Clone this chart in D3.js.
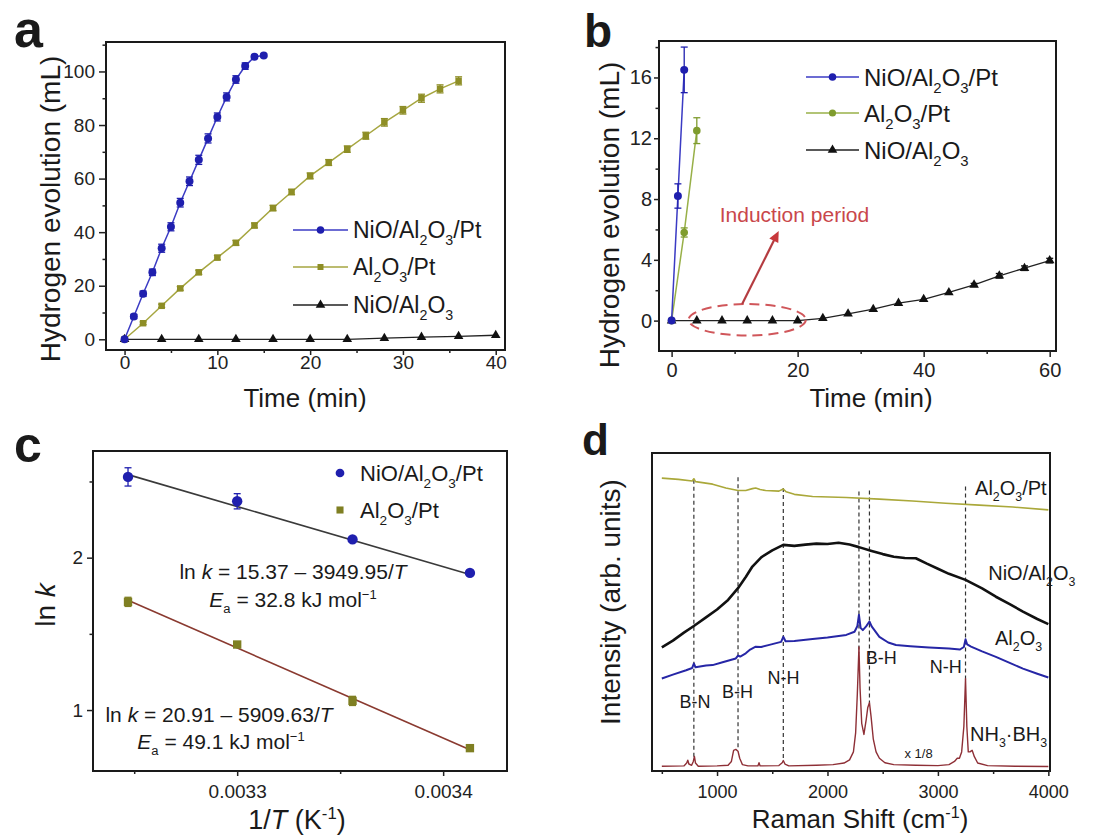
<!DOCTYPE html>
<html>
<head>
<meta charset="utf-8">
<script src="https://cdn.jsdelivr.net/npm/d3@7"></script>
<style>
body { margin: 0; background: #fff; }
</style>
</head>
<body>
<div id="chart"></div>
<script>
// ---- panel a: hydrogen evolution vs time ----
var timeA_pt = [0, 1, 2, 3, 4, 5, 6, 7, 8, 9, 10, 11, 12, 13, 14, 15];
var volA_pt  = [0, 8.5, 17, 25, 34, 42, 51, 59, 67, 75, 83, 90.5, 97, 102, 105.5, 106];
var errA_pt  = [0, 0.8, 1, 1.2, 1.5, 1.5, 1.6, 1.6, 1.7, 1.7, 1.5, 1.5, 1.4, 1.2, 0.6, 0.5];
var timeA_al = [0, 2, 4, 6, 8, 10, 12, 14, 16, 18, 20, 22, 24, 26, 28, 30, 32, 34, 36];
var volA_al  = [0, 6, 12.5, 19, 25, 30.5, 36, 42.5, 49, 55, 61, 66, 71, 76, 81, 85.5, 90, 93.5, 96.5];
var errA_al  = [0, 0.5, 0.6, 0.7, 0.8, 0.8, 0.9, 0.9, 1, 1, 1.1, 1.1, 1.2, 1.3, 1.4, 1.4, 1.5, 1.5, 1.5];
var timeA_ni = [0, 4, 8, 12, 16, 20, 24, 28, 32, 36, 40];
var volA_ni  = [0, 0, 0, 0, 0, 0, 0, 0.4, 0.8, 1.1, 1.5];

// ---- panel b: early stage ----
var timeB_pt = [0, 1, 2];
var volB_pt  = [0, 8.2, 16.5];
var errB_pt  = [0, 0.8, 1.5];
var timeB_al = [0, 2, 4];
var volB_al  = [0, 5.8, 12.5];
var errB_al  = [0, 0.3, 0.85];
var timeB_ni = [0, 4, 8, 12, 16, 20, 24, 28, 32, 36, 40, 44, 48, 52, 56, 60];
var volB_ni  = [0, 0, 0, 0, 0, 0, 0.15, 0.45, 0.75, 1.15, 1.4, 1.85, 2.35, 2.95, 3.45, 3.95];
var errB_ni  = [0, 0, 0, 0, 0, 0, 0, 0, 0, 0, 0, 0, 0.1, 0.15, 0.15, 0.15];

// ---- panel c: Arrhenius plot ----
var invT    = [0.003247, 0.003300, 0.003356, 0.003413];
var lnk_pt  = [2.53, 2.37, 2.12, 1.90];
var errC_pt = [0.06, 0.05, 0, 0];
var lnk_al  = [1.71, 1.43, 1.06, 0.75];
var errC_al = [0.03, 0, 0.03, 0];
var fit_pt  = [[0.003247, 2.545], [0.003413, 1.889]];
var fit_al  = [[0.003247, 1.721], [0.003413, 0.740]];

// ---- panel d: Raman spectra [shift, intensity] ----
var ramanAlPt = [[500,92.1],[650,91.7],[775,91.2],[790,91.9],[805,91.0],[960,90.2],[1080,89.0],[1190,88.2],[1260,88.2],
  [1320,88.8],[1350,89.0],[1390,88.5],[1440,88.2],[1560,88.0],[1600,88.7],[1625,87.8],[1700,87.0],[1865,86.3],
  [2170,86.0],[2470,85.5],[2770,84.9],[3070,84.2],[3375,83.6],[3678,83.0],[4000,82.1]];
var ramanNiAl = [[500,38.9],[600,41.0],[700,43.5],[790,45.6],[900,48.3],[1000,50.8],[1100,53.8],[1190,57.5],[1260,61.0],
  [1320,64.3],[1400,67.2],[1500,69.4],[1600,71.1],[1700,70.8],[1800,71.2],[1900,71.5],[2000,71.4],[2100,71.8],
  [2200,71.2],[2285,70.4],[2400,69.2],[2500,68.2],[2600,67.4],[2700,67.0],[2800,66.9],[2900,65.2],[3000,63.6],
  [3100,62.0],[3250,60.1],[3400,57.4],[3525,54.8],[3650,52.5],[3770,50.1],[3900,47.8],[4000,46.2]];
var ramanAl = [[500,29.1],[600,30.3],[720,31.7],[775,32.4],[790,33.8],[805,32.6],[900,33.2],[960,33.3],[1050,34.2],
  [1170,35.4],[1190,36.3],[1210,36.0],[1260,37.0],[1300,38.2],[1350,39.1],[1400,39.0],[1500,39.9],[1580,40.6],
  [1600,42.2],[1620,40.8],[1700,40.9],[1865,41.5],[2000,42.0],[2170,42.8],[2245,43.8],[2270,45.5],[2285,49.1],
  [2300,45.0],[2320,44.3],[2350,45.5],[2380,47.0],[2400,45.5],[2470,42.2],[2550,40.4],[2620,39.6],[2750,39.2],
  [2920,38.8],[3100,38.5],[3200,38.2],[3235,39.0],[3250,41.4],[3265,39.8],[3300,39.1],[3400,37.6],[3525,35.9],
  [3650,34.0],[3770,32.2],[3900,30.6],[4000,29.4]];
var ramanAB = [[500,1.5],[700,1.6],[725,2.5],[735,3.4],[745,2.2],[770,1.8],[785,3],[795,4.6],[805,2.5],[830,1.5],
  [1000,1.6],[1100,1.8],[1130,3],[1150,6.5],[1170,6.8],[1190,6.2],[1205,4],[1230,2],[1280,1.6],[1370,1.6],[1380,2.6],
  [1390,1.6],[1560,1.7],[1590,2.6],[1600,3.3],[1615,2.2],[1650,1.6],[1900,1.8],[2050,2.0],[2150,2.5],[2200,3.5],
  [2235,6],[2255,12],[2270,24],[2285,39],[2295,26],[2310,15],[2330,11.5],[2350,16],[2365,20],[2380,21.5],[2395,17],
  [2415,10],[2440,6],[2470,4],[2520,2.6],[2600,2.0],[2800,1.8],[3000,1.7],[3100,2],[3150,3],[3175,4],[3195,4],
  [3215,6],[3235,14],[3250,29],[3262,14],[3275,6],[3290,6],[3310,6.5],[3330,4.5],[3360,2.5],[3450,1.7],[3700,1.5],[4000,1.4]];
// dashed peak markers [shift, top, bottom]
var peakLines = [[790,91.6,4.4],[1190,92.4,6.5],[1600,89,3.2],[2285,87.9,37],[2380,88.2,21.2],[3250,89.5,28.6]];
var peakNames = ["B-N", "B-H", "N-H", "B-H", "N-H"];
var peakNameAt = [[800,19.8],[1186,22.9],[1602,27.3],[2486,33.5],[3070,30.8]];

var FONT = '"Liberation Sans", Arial, Helvetica, sans-serif';
var svg = d3.select("#chart").append("svg")
    .attr("width", 1093).attr("height", 837)
    .attr("font-family", FONT);
svg.append("rect").attr("width", 1093).attr("height", 837).attr("fill", "#fff");

// text with sub/sup/italic pieces
function label(g, x, y, segs, fs, anchor) {
    var t = g.append("text").attr("x", x).attr("y", y).attr("font-size", fs)
        .attr("text-anchor", anchor || "start").attr("fill", "#1a1a1a");
    if (typeof segs === "string") segs = [[segs, ""]];
    var shift = 0;
    segs.forEach(function(s) {
        var k = s[1];
        var target = k === "sub" ? fs * 0.3 : (k === "sup" ? -fs * 0.38 : 0);
        var ts = t.append("tspan").attr("dy", target - shift).text(s[0]);
        shift = target;
        if (k === "sub" || k === "sup") ts.attr("font-size", fs * 0.62);
        if (k === "i") ts.attr("font-style", "italic");
    });
    return t;
}
function vlabel(g, x, y, segs, fs) {
    var h = g.append("g").attr("transform", "translate(" + x + "," + y + ") rotate(-90)");
    return label(h, 0, 0, segs, fs, "middle");
}

function frame(g, x, y) {
    g.append("rect")
        .attr("x", x.range()[0]).attr("y", y.range()[1])
        .attr("width", x.range()[1] - x.range()[0])
        .attr("height", y.range()[0] - y.range()[1])
        .attr("fill", "none").attr("stroke", "#1a1a1a").attr("stroke-width", 2);
}

function styleAxis(ax, fs) {
    ax.select(".domain").remove();
    ax.attr("font-size", fs).attr("font-family", FONT).attr("color", "#222");
    ax.selectAll("line").attr("stroke-width", 1.5);
}

function xAxis(g, x, y, major, minor, fmt, fs, tick, pad) {
    var y0 = y.range()[0];
    var ax = g.append("g").attr("transform", "translate(0," + y0 + ")")
        .call(d3.axisBottom(x).tickValues(major).tickSize(tick).tickPadding(pad).tickFormat(fmt));
    styleAxis(ax, fs);
    var mi = g.append("g").attr("transform", "translate(0," + y0 + ")")
        .call(d3.axisBottom(x).tickValues(minor).tickSize(3).tickFormat(""));
    styleAxis(mi, fs);
}

function yAxis(g, x, y, major, minor, fmt, fs, tick, pad) {
    var x0 = x.range()[0];
    var ax = g.append("g").attr("transform", "translate(" + x0 + ",0)")
        .call(d3.axisLeft(y).tickValues(major).tickSize(tick).tickPadding(pad).tickFormat(fmt));
    styleAxis(ax, fs);
    var mi = g.append("g").attr("transform", "translate(" + x0 + ",0)")
        .call(d3.axisLeft(y).tickValues(minor).tickSize(3.5).tickFormat(""));
    styleAxis(mi, fs);
}

function series(g, x, y, ts, vs, es, lineColor, markColor, sym, size, lw) {
    var pts = ts.map(function(t, i) { return [t, vs[i]]; });
    if (lineColor) {
        g.append("path").datum(pts)
            .attr("d", d3.line().x(function(d) { return x(d[0]); }).y(function(d) { return y(d[1]); }))
            .attr("fill", "none").attr("stroke", lineColor).attr("stroke-width", lw || 1.5);
    }
    if (es) {
        var eb = g.append("g").attr("stroke", markColor).attr("stroke-width", 1.3);
        pts.forEach(function(d, i) {
            if (!es[i]) return;
            var cx = x(d[0]), y1 = y(d[1] + es[i]), y2 = y(d[1] - es[i]);
            eb.append("line").attr("x1", cx).attr("x2", cx).attr("y1", y1).attr("y2", y2);
            eb.append("line").attr("x1", cx - 3.5).attr("x2", cx + 3.5).attr("y1", y1).attr("y2", y1);
            eb.append("line").attr("x1", cx - 3.5).attr("x2", cx + 3.5).attr("y1", y2).attr("y2", y2);
        });
    }
    g.append("g").selectAll("path").data(pts).enter().append("path")
        .attr("transform", function(d) { return "translate(" + x(d[0]) + "," + y(d[1]) + ")"; })
        .attr("d", d3.symbol().type(sym).size(size))
        .attr("fill", markColor);
}

function legendRow(g, x0, x1, yc, color, lineColor, sym, size, segs, fs) {
    if (lineColor) {
        g.append("line").attr("x1", x0).attr("x2", x1).attr("y1", yc).attr("y2", yc)
            .attr("stroke", lineColor).attr("stroke-width", 1.5);
    }
    g.append("path").attr("transform", "translate(" + (x0 + x1) / 2 + "," + yc + ")")
        .attr("d", d3.symbol().type(sym).size(size)).attr("fill", color);
    label(g, x1 + 5, yc + fs * 0.36, segs, fs);
}

var NAME_PT = [["NiO/Al", ""], ["2", "sub"], ["O", ""], ["3", "sub"], ["/Pt", ""]];
var NAME_AL = [["Al", ""], ["2", "sub"], ["O", ""], ["3", "sub"], ["/Pt", ""]];
var NAME_NI = [["NiO/Al", ""], ["2", "sub"], ["O", ""], ["3", "sub"]];
var BLUE = "#1f1fae", BLUE_L = "#3b3bc4";
var OLIVE = "#8e8e26", OLIVE_L = "#a6a640";
var GREEN_B = "#7f9c2e", GREEN_BL = "#98b048";
var fmtInt = d3.format("d");

// ================= panel a =================
var ga = svg.append("g");
var xa = d3.scaleLinear().domain([-2, 41]).range([106, 505]);
var ya = d3.scaleLinear().domain([-4, 111]).range([350, 42]);
series(ga, xa, ya, timeA_ni, volA_ni, null, "#222", "#111", d3.symbolTriangle, 40, 1.3);
series(ga, xa, ya, timeA_al, volA_al, errA_al, OLIVE_L, OLIVE, d3.symbolSquare, 42, 1.5);
series(ga, xa, ya, timeA_pt, volA_pt, errA_pt, BLUE_L, BLUE, d3.symbolCircle, 50, 1.5);
frame(ga, xa, ya);
xAxis(ga, xa, ya, [0, 10, 20, 30, 40], [5, 15, 25, 35], fmtInt, 19, 5, 1);
yAxis(ga, xa, ya, [0, 20, 40, 60, 80, 100], [10, 30, 50, 70, 90, 110], fmtInt, 19, 7, 4);
legendRow(ga, 293, 348, 230, BLUE, BLUE_L, d3.symbolCircle, 45, NAME_PT, 23);
legendRow(ga, 293, 348, 267, OLIVE, OLIVE_L, d3.symbolSquare, 36, NAME_AL, 23);
legendRow(ga, 293, 348, 305, "#111", "#222", d3.symbolTriangle, 40, NAME_NI, 23);
label(ga, 305, 407, "Time (min)", 26, "middle");
vlabel(ga, 60, 209, "Hydrogen evolution (mL)", 28);
label(ga, 14, 47, "a", 52).attr("font-weight", "bold");

// ================= panel b =================
var gb = svg.append("g");
var xb = d3.scaleLinear().domain([-2, 61]).range([659, 1056]);
var yb = d3.scaleLinear().domain([-2, 18.4]).range([351, 41]);
series(gb, xb, yb, timeB_ni, volB_ni, errB_ni, "#222", "#111", d3.symbolTriangle, 40, 1.3);
series(gb, xb, yb, timeB_al, volB_al, errB_al, GREEN_BL, GREEN_B, d3.symbolCircle, 45, 1.5);
series(gb, xb, yb, timeB_pt, volB_pt, errB_pt, BLUE_L, BLUE, d3.symbolCircle, 50, 1.5);
// induction period marker
var ell = { x0: 2.7, x1: 21.3, y0: -0.98, y1: 1.09 };
gb.append("ellipse")
    .attr("cx", (xb(ell.x0) + xb(ell.x1)) / 2).attr("cy", (yb(ell.y0) + yb(ell.y1)) / 2)
    .attr("rx", (xb(ell.x1) - xb(ell.x0)) / 2).attr("ry", (yb(ell.y0) - yb(ell.y1)) / 2)
    .attr("fill", "none").attr("stroke", "#d0565a").attr("stroke-width", 2)
    .attr("stroke-dasharray", "10,6");
var ax0 = xb(11.2), ay0 = yb(1.09), ax1 = xb(17.0), ay1 = yb(5.9);
var ang = Math.atan2(ay1 - ay0, ax1 - ax0);
gb.append("line").attr("x1", ax0).attr("y1", ay0)
    .attr("x2", ax1 - 8 * Math.cos(ang)).attr("y2", ay1 - 8 * Math.sin(ang))
    .attr("stroke", "#b43c40").attr("stroke-width", 2.2);
gb.append("path")
    .attr("d", "M0,0L-11,-5L-11,5Z")
    .attr("transform", "translate(" + ax1 + "," + ay1 + ") rotate(" + ang * 180 / Math.PI + ")")
    .attr("fill", "#c8383c");
label(gb, xb(19.5), yb(6.5), "Induction period", 21, "middle").attr("fill", "#c9474b");
frame(gb, xb, yb);
xAxis(gb, xb, yb, [0, 20, 40, 60], [10, 30, 50], fmtInt, 20, 6, 6);
yAxis(gb, xb, yb, [0, 4, 8, 12, 16], [2, 6, 10, 14, 18], fmtInt, 20, 5, 2);
legendRow(gb, 806, 859, 77, BLUE, BLUE_L, d3.symbolCircle, 45, NAME_PT, 24);
legendRow(gb, 806, 859, 113, GREEN_B, GREEN_BL, d3.symbolCircle, 40, NAME_AL, 24);
legendRow(gb, 806, 859, 150, "#111", "#222", d3.symbolTriangle, 40, NAME_NI, 24);
label(gb, 871, 407, "Time (min)", 26, "middle");
vlabel(gb, 619, 215, "Hydrogen evolution (mL)", 28);
label(gb, 584, 47, "b", 46).attr("font-weight", "bold");

// ================= panel c =================
var gc = svg.append("g");
var xc = d3.scaleLinear().domain([0.003230, 0.003431]).range([93, 507]);
var yc = d3.scaleLinear().domain([0.60, 2.70]).range([771, 451]);
var fitLine = d3.line().x(function(d) { return xc(d[0]); }).y(function(d) { return yc(d[1]); });
gc.append("path").datum(fit_pt).attr("d", fitLine).attr("fill", "none").attr("stroke", "#3a3a3a").attr("stroke-width", 1.6);
gc.append("path").datum(fit_al).attr("d", fitLine).attr("fill", "none").attr("stroke", "#8a3a30").attr("stroke-width", 1.6);
series(gc, xc, yc, invT, lnk_al, errC_al, null, "#7f7f22", d3.symbolSquare, 70);
series(gc, xc, yc, invT, lnk_pt, errC_pt, null, BLUE, d3.symbolCircle, 85);
frame(gc, xc, yc);
xAxis(gc, xc, yc, [0.0033, 0.0034], [0.00325, 0.00335], d3.format(".4f"), 19, 5, 9);
yAxis(gc, xc, yc, [1, 2], [1.5, 2.5], fmtInt, 19, 6, 4);
legendRow(gc, 325, 355, 473, BLUE, null, d3.symbolCircle, 60, NAME_PT, 22);
legendRow(gc, 325, 355, 510, "#7f7f22", null, d3.symbolSquare, 50, NAME_AL, 22);
label(gc, 293, 579, [["ln ", ""], ["k", "i"], [" = 15.37 \u2013 3949.95/", ""], ["T", "i"]], 21, "middle");
label(gc, 293, 607, [["E", "i"], ["a", "sub"], [" =  32.8 kJ mol", ""], ["\u22121", "sup"]], 21, "middle");
label(gc, 219, 722, [["ln ", ""], ["k", "i"], [" = 20.91 \u2013 5909.63/", ""], ["T", "i"]], 21, "middle");
label(gc, 221, 749, [["E", "i"], ["a", "sub"], [" =  49.1 kJ mol", ""], ["\u22121", "sup"]], 21, "middle");
label(gc, 297, 829, [["1/", ""], ["T", "i"], [" (K", ""], ["-1", "sup"], [")", ""]], 27, "middle");
vlabel(gc, 55, 605, [["ln ", ""], ["k", "i"]], 28);
label(gc, 14, 462, "c", 50).attr("font-weight", "bold");

// ================= panel d =================
var gd = svg.append("g");
var xd = d3.scaleLinear().domain([411, 4015]).range([652, 1050]);
var yd = d3.scaleLinear().domain([0, 100]).range([771, 453]);
var specLine = d3.line().x(function(d) { return xd(d[0]); }).y(function(d) { return yd(d[1]); });
gd.append("g").selectAll("line").data(peakLines).enter().append("line")
    .attr("x1", function(d) { return xd(d[0]); }).attr("x2", function(d) { return xd(d[0]); })
    .attr("y1", function(d) { return yd(d[1]); }).attr("y2", function(d) { return yd(d[2]); })
    .attr("stroke", "#333").attr("stroke-width", 1.2).attr("stroke-dasharray", "4,3");
[[ramanAlPt, "#aaa83a", 1.6], [ramanNiAl, "#111", 2.6], [ramanAl, "#2626a6", 2], [ramanAB, "#8e2f36", 1.4]]
    .forEach(function(s) {
        gd.append("path").datum(s[0]).attr("d", specLine)
            .attr("fill", "none").attr("stroke", s[1]).attr("stroke-width", s[2]).attr("stroke-linejoin", "round");
    });
peakNames.forEach(function(n, i) {
    label(gd, xd(peakNameAt[i][0]), yd(peakNameAt[i][1]), n, 18, "middle");
});
label(gd, xd(2825), yd(4.0), "x 1/8", 13, "middle");
label(gd, xd(3985), yd(86.9), NAME_AL, 20, "end");
label(gd, xd(3850), yd(60.1), NAME_NI, 20, "middle");
label(gd, xd(3730), yd(39.6), [["Al", ""], ["2", "sub"], ["O", ""], ["3", "sub"]], 20, "middle");
label(gd, xd(3640), yd(9.4), [["NH", ""], ["3", "sub"], ["\u00b7BH", ""], ["3", "sub"]], 20, "middle");
frame(gd, xd, yd);
xAxis(gd, xd, yd, [1000, 2000, 3000, 4000], [500, 1500, 2500, 3500], fmtInt, 18, 5, 9);
label(gd, 860, 828, [["Raman Shift (cm", ""], ["-1", "sup"], [")", ""]], 26, "middle");
vlabel(gd, 620, 602, "Intensity (arb. units)", 28);
label(gd, 582, 455, "d", 44).attr("font-weight", "bold");
</script>
</body>
</html>
